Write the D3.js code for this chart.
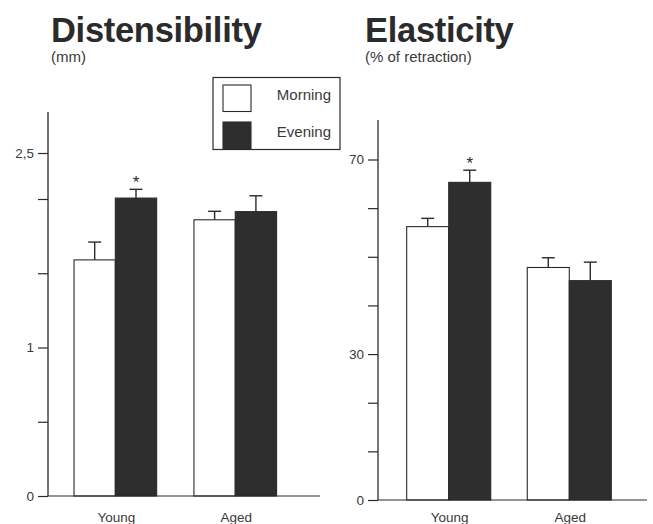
<!DOCTYPE html>
<html>
<head>
<meta charset="utf-8">
<script src="https://cdn.jsdelivr.net/npm/d3@7"></script>
<style>
  html, body { margin: 0; padding: 0; background: #ffffff; }
  svg { display: block; }
</style>
</head>
<body>
<svg id="chart" width="653" height="524"></svg>
<script>
// ---------- DATA ----------
const groups = ["Young", "Aged"];
const seriesNames = ["Morning", "Evening"];

// Distensibility (mm)
const distMorning    = [1.59, 1.86];
const distMorningErr = [0.12, 0.057];
const distEvening    = [2.01, 1.915];
const distEveningErr = [0.095, 0.12];
const distSignif     = [false, false, true, false]; // Morning Young, Morning Aged, Evening Young, Evening Aged
const distTicks      = [0, 0.5, 1, 1.5, 2, 2.5];
const distTickLabels = ["0", "", "1", "", "", "2,5"];

// Elasticity (% of retraction)
const elastMorning    = [56.2, 47.8];
const elastMorningErr = [1.7, 2.0];
const elastEvening    = [65.3, 45.1];
const elastEveningErr = [2.5, 3.8];
const elastSignif     = [false, false, true, false];
const elastTicks      = [0, 10, 20, 30, 40, 50, 60, 70];
const elastTickLabels = ["0", "", "", "30", "", "", "", "70"];

// ---------- DRAW ----------
const svg = d3.select("#chart");
const FONT = "'Liberation Sans', Arial, Helvetica, sans-serif";
const INK = "#2b2b2b";
const DARK = "#2e2e2e";

function rows(morning, mErr, evening, eErr, signif) {
  const out = [];
  seriesNames.forEach((s, si) => {
    groups.forEach((g, gi) => {
      const v = si === 0 ? morning[gi] : evening[gi];
      const e = si === 0 ? mErr[gi] : eErr[gi];
      out.push({ group: g, series: s, value: v, err: e, star: signif[si * groups.length + gi] });
    });
  });
  return out;
}

function panel(opt) {
  const g = svg.append("g");
  const y = opt.y;
  const x = d3.scaleBand().domain(groups).range(opt.xRange)
    .paddingInner(opt.pIn).paddingOuter(opt.pOut);
  const xs = d3.scaleBand().domain(seriesNames).range([0, x.bandwidth()]).padding(0);

  // title
  g.append("text").attr("x", opt.titleX).attr("y", 42)
    .attr("font-family", FONT).attr("font-weight", "bold").attr("font-size", 34.5)
    .attr("letter-spacing", -0.3)
    .attr("fill", INK).text(opt.title);
  g.append("text").attr("x", opt.titleX).attr("y", 62)
    .attr("font-family", FONT).attr("font-size", 15)
    .attr("fill", "#3a3a3a").text(opt.sub);

  // y axis
  const ax = g.append("g").attr("transform", `translate(${opt.axisX},0)`)
    .call(d3.axisLeft(y).tickValues(opt.ticks).tickSize(10).tickPadding(4)
      .tickFormat((d, i) => opt.tickLabels[i]));
  ax.select(".domain").remove();
  ax.selectAll(".tick line").attr("stroke", INK).attr("stroke-width", 1.2);
  ax.selectAll(".tick text").attr("font-family", FONT).attr("font-size", 13.5).attr("fill", "#3a3a3a");
  g.append("line").attr("x1", opt.axisX).attr("x2", opt.axisX)
    .attr("y1", opt.axisTop).attr("y2", y(0))
    .attr("stroke", INK).attr("stroke-width", 1.3);

  const data = rows(opt.morning, opt.mErr, opt.evening, opt.eErr, opt.signif);

  // bars
  g.selectAll("rect.bar").data(data).join("rect")
    .attr("class", "bar")
    .attr("x", d => x(d.group) + xs(d.series))
    .attr("y", d => y(d.value))
    .attr("width", xs.bandwidth())
    .attr("height", d => y(0) - y(d.value))
    .attr("fill", d => d.series === "Morning" ? "#ffffff" : DARK)
    .attr("stroke", INK).attr("stroke-width", 1.1);

  // error bars (upward)
  const cx = d => x(d.group) + xs(d.series) + xs.bandwidth() / 2;
  g.selectAll("line.err").data(data).join("line")
    .attr("class", "err")
    .attr("x1", cx).attr("x2", cx)
    .attr("y1", d => y(d.value)).attr("y2", d => y(d.value + d.err))
    .attr("stroke", INK).attr("stroke-width", 1.4);
  g.selectAll("line.cap").data(data).join("line")
    .attr("class", "cap")
    .attr("x1", d => cx(d) - 6.5).attr("x2", d => cx(d) + 6.5)
    .attr("y1", d => y(d.value + d.err)).attr("y2", d => y(d.value + d.err))
    .attr("stroke", INK).attr("stroke-width", 1.4);

  // significance stars
  g.selectAll("text.star").data(data.filter(d => d.star)).join("text")
    .attr("class", "star")
    .attr("x", cx).attr("y", d => y(d.value + d.err) - 1)
    .attr("text-anchor", "middle")
    .attr("font-family", FONT).attr("font-size", 17).attr("fill", INK)
    .text("*");

  // x axis line
  g.append("line").attr("x1", opt.axisX).attr("x2", opt.axisRight)
    .attr("y1", y(0)).attr("y2", y(0))
    .attr("stroke", INK).attr("stroke-width", 1.2);

  // group labels
  g.selectAll("text.grp").data(groups).join("text")
    .attr("class", "grp")
    .attr("x", d => x(d) + x.bandwidth() / 2 + 1)
    .attr("y", 522)
    .attr("text-anchor", "middle")
    .attr("font-family", FONT).attr("font-size", 13.5).attr("fill", "#3a3a3a")
    .text(d => d);
}

panel({
  title: "Distensibility", sub: "(mm)", titleX: 51,
  y: d3.scaleLinear().domain([0, 2, 2.5]).range([496, 199, 153]),
  axisX: 48, axisTop: 112, axisRight: 320,
  xRange: [48, 302.6], pIn: 0.311, pOut: 0.217,
  ticks: distTicks, tickLabels: distTickLabels,
  morning: distMorning, mErr: distMorningErr,
  evening: distEvening, eErr: distEveningErr, signif: distSignif
});

panel({
  title: "Elasticity", sub: "(% of retraction)", titleX: 365,
  y: d3.scaleLinear().domain([0, 70]).range([500, 159.5]),
  axisX: 378, axisTop: 120, axisRight: 647,
  xRange: [378, 640], pIn: 0.303, pOut: 0.238,
  ticks: elastTicks, tickLabels: elastTickLabels,
  morning: elastMorning, mErr: elastMorningErr,
  evening: elastEvening, eErr: elastEveningErr, signif: elastSignif
});

// legend
const lg = svg.append("g");
lg.append("rect").attr("x", 213).attr("y", 77.5).attr("width", 127).attr("height", 72)
  .attr("fill", "#ffffff").attr("stroke", INK).attr("stroke-width", 1.2);
const legY = d3.scalePoint().domain(seriesNames).range([85, 122]);
lg.selectAll("rect.sw").data(seriesNames).join("rect")
  .attr("class", "sw")
  .attr("x", 223).attr("y", d => legY(d))
  .attr("width", 28).attr("height", 26.5)
  .attr("fill", d => d === "Morning" ? "#ffffff" : DARK)
  .attr("stroke", INK).attr("stroke-width", 1.1);
lg.selectAll("text.lt").data(seriesNames).join("text")
  .attr("class", "lt")
  .attr("x", 331).attr("y", d => legY(d) + 15)
  .attr("text-anchor", "end")
  .attr("font-family", FONT).attr("font-size", 15).attr("fill", "#3a3a3a")
  .text(d => d);
</script>
</body>
</html>
